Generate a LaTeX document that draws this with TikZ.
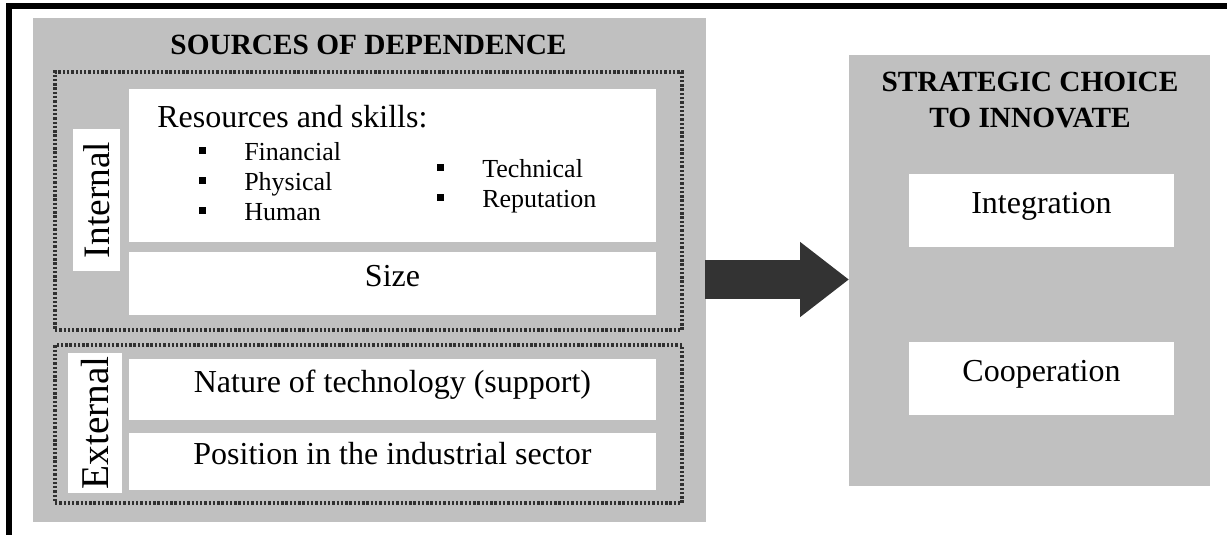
\documentclass[tikz,border=0pt]{standalone}
\usepackage{fontspec}
\setmainfont{Liberation Serif}
\usetikzlibrary{arrows.meta}
\definecolor{panelgray}{RGB}{192,192,192}
\definecolor{dotgray}{RGB}{48,48,48}
\definecolor{arrowgray}{RGB}{51,51,51}
\begin{document}
\begin{tikzpicture}[x=0.75pt,y=-0.75pt,
  panel/.style={fill=panelgray, inner sep=0pt, outer sep=0pt},
  whitebox/.style={fill=white, inner sep=0pt, outer sep=0pt,
    font=\fontsize{24}{28}\selectfont, text height=0.7em, text depth=0.2em},
  bodytext/.style={inner sep=0pt, font=\fontsize{24}{28}\selectfont},
  itemtext/.style={inner sep=0pt, font=\fontsize{19.5}{23}\selectfont},
  dottedbox/.style={draw=dotgray, line width=2.5pt, dash pattern=on 1.8pt off 1.4pt, inner sep=0pt},
  sidelabel/.style={fill=white, inner sep=0pt, outer sep=0pt, rotate=90},
  heading/.style={font=\bfseries\fontsize{22}{27}\selectfont, align=center, inner sep=0pt}
]
\useasboundingbox (0,0) rectangle (1227,535);
\draw[line width=4.5pt] (9.3,535) -- (9.3,6) -- (1227,6);

% the two panels
\node[panel, minimum width=504.75pt, minimum height=378pt] (sources) at (369.5,270) {};
\node[panel, minimum width=270.75pt, minimum height=323.25pt] (choice) at (1029.5,270.5) {};
\node[heading] (sourcestitle) at (368.5,45) {SOURCES OF DEPENDENCE};
\node[heading] (choicetitle) at (1030,100.5) {STRATEGIC CHOICE\\TO INNOVATE};

% internal and external groups
\node[dottedbox, minimum width=470.25pt, minimum height=193.5pt] (internal) at (368.5,201) {};
\node[dottedbox, minimum width=470.25pt, minimum height=118.5pt] (external) at (368.5,424) {};
\node[sidelabel, minimum width=106.5pt, minimum height=35.25pt, font=\fontsize{28}{32}\selectfont] (internallabel) at (96.5,200) {Internal};
\node[sidelabel, minimum width=105pt, minimum height=40.5pt, font=\fontsize{29.5}{34}\selectfont] (externallabel) at (95,423) {External};

\node[whitebox, minimum width=395.25pt, minimum height=114.75pt] (resources) at (392.5,165.5) {};
\node[bodytext, anchor=base west] (resourcestitle) at (157,127) {Resources and skills:};
\foreach \name/\bx/\by in {Financial/202/160, Physical/202/190, Human/202/220, Technical/440/177, Reputation/440/207} {
  \fill (\bx-3.5,\by-13) rectangle (\bx+3.5,\by-6);
  \node[itemtext, anchor=base west] (\name) at (\bx+42,\by) {\name};
}
\node[whitebox, minimum width=395.25pt, minimum height=47.25pt] (size) at (392.5,283.5) {Size};
\node[whitebox, minimum width=395.25pt, minimum height=45.75pt] (nature) at (392.5,389.5) {Nature of technology (support)};
\node[whitebox, minimum width=395.25pt, minimum height=42.75pt] (position) at (392.5,461.5) {Position in the industrial sector};

% choices
\node[whitebox, minimum width=198.75pt, minimum height=54.75pt] (integration) at (1041.5,210.5) {Integration};
\node[whitebox, minimum width=198.75pt, minimum height=54.75pt] (cooperation) at (1041.5,378.5) {Cooperation};

% big arrow
\coordinate (arrowstart) at (705,279.5);
\draw[arrowgray, line width=29.25pt, -{Triangle[length=36.75pt, width=54pt]}] (arrowstart) -- (arrowstart -| choice.west);
\end{tikzpicture}
\end{document}
